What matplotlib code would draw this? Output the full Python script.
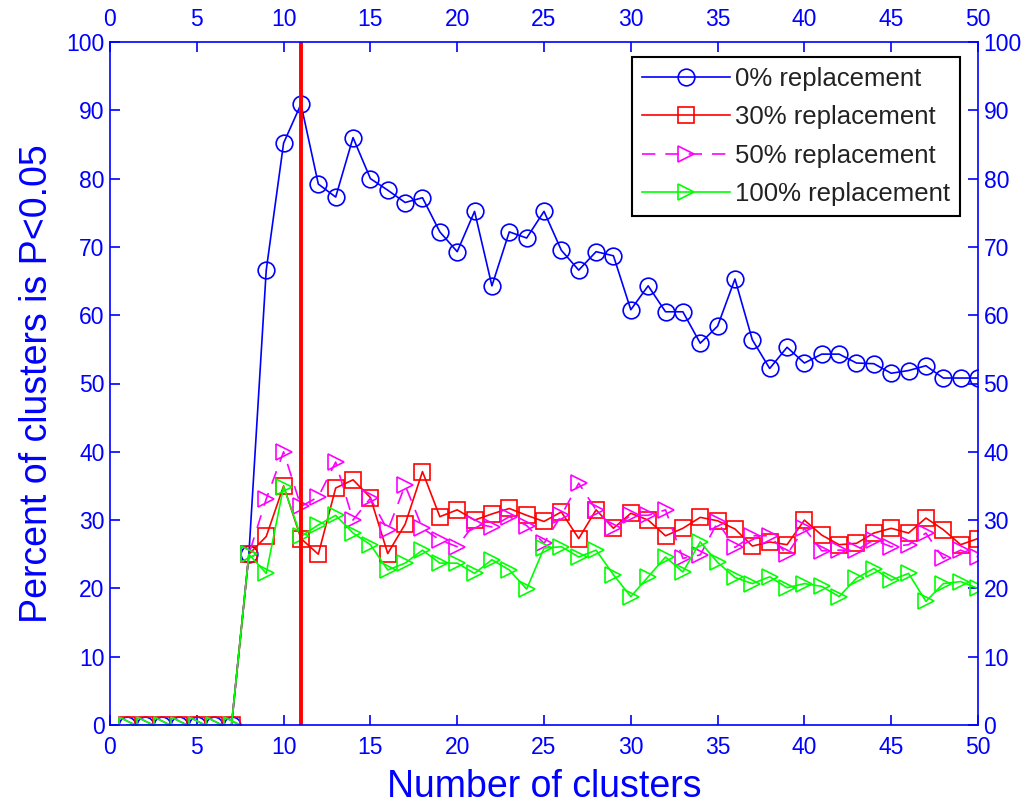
import matplotlib
matplotlib.use("Agg")
import matplotlib.pyplot as plt
import numpy as np

# Number of clusters (x axis)
clusters = list(range(1, 51))

# Percent of clusters with P<0.05, per replacement level (x = 1..50)
zeros = [0] * 7
pct_0 = zeros + [25, 66.6, 85.2, 90.9, 79.2, 77.3, 86.0, 80.0, 78.3, 76.5,
                 77.2, 72.2, 69.3, 75.2, 64.3, 72.2, 71.3, 75.2, 69.5, 66.6,
                 69.3, 68.7, 60.8, 64.3, 60.5, 60.5, 55.9, 58.4, 65.3, 56.4,
                 52.2, 55.3, 53.0, 54.3, 54.3, 53.0, 52.9, 51.5, 51.9, 52.6,
                 50.8, 50.8, 50.8]
pct_30 = zeros + [25, 27.6, 35.0, 27.3, 25.0, 34.7, 35.9, 33.3, 25.1, 29.4,
                  37.1, 30.5, 31.5, 30.0, 30.9, 31.7, 30.7, 29.8, 31.2, 27.3,
                  31.5, 28.8, 31.0, 30.0, 27.7, 28.8, 30.4, 29.9, 28.7, 26.2,
                  26.8, 26.4, 30.0, 27.8, 26.4, 26.6, 28.1, 28.8, 28.1, 30.3,
                  28.6, 26.4, 27.3]
pct_50 = zeros + [25, 33.1, 40.0, 32.0, 33.4, 38.5, 30.0, 33.2, 28.5, 35.1,
                  28.8, 27.1, 26.1, 29.5, 29.0, 30.5, 29.2, 26.6, 30.7, 35.4,
                  31.5, 28.8, 30.7, 30.7, 31.5, 24.4, 24.9, 29.7, 26.0, 27.7,
                  27.7, 25.0, 28.8, 25.5, 25.6, 25.6, 27.1, 26.1, 26.4, 28.1,
                  24.4, 25.6, 24.6]
pct_100 = zeros + [25, 22.2, 34.9, 27.6, 29.3, 30.7, 28.1, 26.4, 22.7, 23.7,
                   25.6, 23.7, 23.7, 22.2, 24.2, 22.7, 19.9, 25.9, 26.1, 24.6,
                   25.6, 22.0, 18.8, 21.7, 24.6, 22.4, 26.8, 23.8, 21.6, 20.7,
                   21.7, 20.1, 20.7, 20.3, 18.8, 21.5, 22.9, 21.2, 22.2, 18.1,
                   20.7, 21.0, 20.0]

labels = ["0% replacement", "30% replacement", "50% replacement", "100% replacement"]
chosen_clusters = 11

plt.rcParams['font.family'] = ['Liberation Sans', 'DejaVu Sans']

fig = plt.figure(figsize=(10.28, 8.06), dpi=100)
ax = fig.add_axes([110 / 1028, 1 - 725 / 806, 868 / 1028, 683 / 806])

ms = 12
ax.plot(clusters, pct_0, color='blue', lw=1.2, marker='o', ms=ms,
        mfc='none', mec='blue', mew=1.2, label=labels[0])
ax.plot(clusters, pct_30, color='red', lw=1.2, marker='s', ms=ms,
        mfc='none', mec='red', mew=1.2, label=labels[1])
ax.plot(clusters, pct_50, color='magenta', lw=1.2, ls=(0, (8, 6)), marker='>',
        ms=ms, mfc='none', mec='magenta', mew=1.2, label=labels[2])
ax.plot(clusters, pct_100, color='lime', lw=1.2, marker='>', ms=ms,
        mfc='none', mec='lime', mew=1.2, label=labels[3])

ax.axvline(chosen_clusters, color='red', lw=2.8)

ax.set_xlim(0, 50)
ax.set_ylim(0, 100)
ax.set_xticks(np.arange(0, 51, 5))
ax.set_yticks(np.arange(0, 101, 10))

for side in ax.spines.values():
    side.set_color('blue')
    side.set_linewidth(1.2)

ax.tick_params(axis='both', direction='in', length=7, width=1.2,
               colors='blue', top=True, right=True, labeltop=True,
               labelright=True, labelsize=16.5, pad=4)
ax.tick_params(axis='x', which='both', pad=8)
ax.tick_params(axis='y', which='both', pad=4)

ax.set_xlabel("Number of clusters", color='blue', fontsize=27, labelpad=7)
ax.set_ylabel("Percent of clusters is P<0.05", color='blue', fontsize=27,
              labelpad=8)

leg = ax.legend(loc='upper right', bbox_to_anchor=(960 / 1028, 1 - 57 / 806),
                bbox_transform=fig.transFigure, borderaxespad=0,
                fancybox=False, edgecolor='black', fontsize=18.5,
                handlelength=3.4, labelspacing=0.55, borderpad=0.4,
                handletextpad=0.2, framealpha=1)
leg.get_frame().set_linewidth(1.5)
for t in leg.get_texts():
    t.set_color('#222222')

fig.savefig("out.png", dpi=100)
